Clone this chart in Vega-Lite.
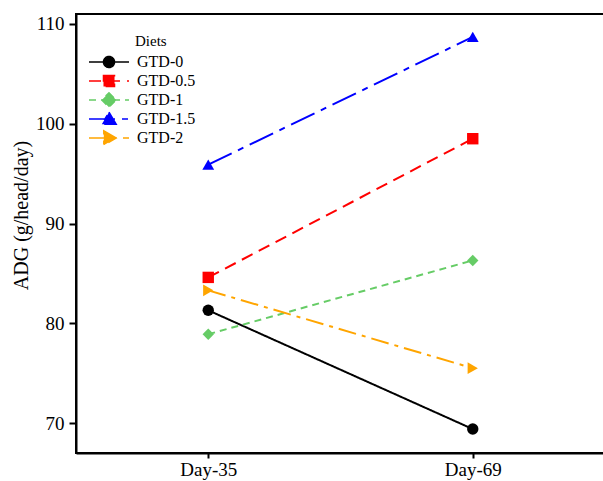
{
  "$schema": "https://vega.github.io/schema/vega-lite/v6.json",
  "width": 529,
  "height": 439,
  "autosize": "none",
  "padding": {"left": 76, "top": 14, "right": 0, "bottom": 28},
  "background": "white",
  "config": {"view": {"stroke": "black", "strokeWidth": 2}, "font": "Liberation Serif"},
  "data": {"values": [
    {"Diet": "GTD-0", "Day": "Day-35", "ADG": 81.3},
    {"Diet": "GTD-0", "Day": "Day-69", "ADG": 69.4},
    {"Diet": "GTD-0.5", "Day": "Day-35", "ADG": 84.6},
    {"Diet": "GTD-0.5", "Day": "Day-69", "ADG": 98.5},
    {"Diet": "GTD-1", "Day": "Day-35", "ADG": 78.9},
    {"Diet": "GTD-1", "Day": "Day-69", "ADG": 86.3},
    {"Diet": "GTD-1.5", "Day": "Day-35", "ADG": 95.9},
    {"Diet": "GTD-1.5", "Day": "Day-69", "ADG": 108.7},
    {"Diet": "GTD-2", "Day": "Day-35", "ADG": 83.3},
    {"Diet": "GTD-2", "Day": "Day-69", "ADG": 75.5}
  ]},
  "encoding": {
    "x": {"field": "Day", "type": "nominal",
      "scale": {"type": "point", "padding": 0.5, "domain": ["Day-35", "Day-69"]},
      "axis": {"title": null, "labelAngle": 0, "grid": false, "domainColor": "black", "domainWidth": 2, "tickColor": "black", "tickWidth": 2, "tickSize": 5, "labelFont": "Liberation Serif", "labelFontSize": 19, "labelColor": "black", "labelPadding": 2}},
    "y": {"field": "ADG", "type": "quantitative",
      "scale": {"domain": [67, 111], "nice": false, "zero": false},
      "axis": {"title": "ADG (g/head/day)", "values": [70, 80, 90, 100, 110], "grid": false, "domainColor": "black", "domainWidth": 2, "tickColor": "black", "tickWidth": 2, "tickSize": 7, "labelFont": "Liberation Serif", "labelFontSize": 19, "labelColor": "black", "labelPadding": 5, "titleFont": "Liberation Serif", "titleFontSize": 20, "titleFontWeight": "normal", "titleColor": "black", "titlePadding": 4, "titleY": 201}},
    "color": {"field": "Diet", "type": "nominal",
      "scale": {"domain": ["GTD-0", "GTD-0.5", "GTD-1", "GTD-1.5", "GTD-2"], "range": ["#000000", "#FF0000", "#66CC66", "#0000FF", "#FFA500"]},
      "legend": {
        "orient": "none", "legendX": 13, "legendY": 20, "title": "Diets",
        "titleFont": "Liberation Serif", "titleFontSize": 15, "titleFontWeight": "normal", "titleColor": "black", "titlePadding": 4,
        "labelFont": "Liberation Serif", "labelFontSize": 16, "labelColor": "black", "labelOffset": 19,
        "symbolSize": 256, "symbolStrokeWidth": 1.5, "symbolOffset": 11, "rowPadding": 1, "padding": 0, "clipHeight": 18,
        "encode": {
          "title": {"update": {"dx": {"value": 46}}},
          "symbols": {"update": {
            "shape": {"signal": "datum.value === 'GTD-0' ? 'M-2.5,0L2.5,0M0.69,0A0.69,0.69,0,1,1,-0.69,0A0.69,0.69,0,1,1,0.69,0Z' : datum.value === 'GTD-0.5' ? 'M-2.5,0L2.5,0M-0.69,-0.69L0.69,-0.69L0.69,0.69L-0.69,0.69Z' : datum.value === 'GTD-1' ? 'M-2.5,0L2.5,0M0,-0.9L0.9,0L0,0.9L-0.9,0Z' : datum.value === 'GTD-1.5' ? 'M-2.5,0L2.5,0M0,-0.85L0.9,0.65L-0.9,0.65Z' : 'M-2.5,0L2.5,0M0.9,0L-0.65,-0.9L-0.65,0.9Z'"},
            "fill": {"signal": "scale('color', datum.value)"},
            "opacity": {"value": 1}
          }}
        }
      }}
  },
  "layer": [
    {
      "mark": {"type": "line", "strokeWidth": 2},
      "encoding": {
        "strokeDash": {"field": "Diet", "type": "nominal",
          "scale": {"domain": ["GTD-0", "GTD-0.5", "GTD-1", "GTD-1.5", "GTD-2"], "range": [[1, 0], [12, 7], [7, 5], [26, 7, 6, 7], [18, 6, 4, 6]]}}
      }
    },
    {"transform": [{"filter": "datum.Diet === 'GTD-0'"}], "mark": {"type": "point", "filled": true, "size": 130, "opacity": 1, "shape": "circle"}},
    {"transform": [{"filter": "datum.Diet === 'GTD-0.5'"}], "mark": {"type": "point", "filled": true, "size": 130, "opacity": 1, "shape": "square"}},
    {"transform": [{"filter": "datum.Diet === 'GTD-1'"}], "mark": {"type": "point", "filled": true, "size": 130, "opacity": 1, "shape": "diamond"}},
    {"transform": [{"filter": "datum.Diet === 'GTD-1.5'"}], "mark": {"type": "point", "filled": true, "size": 140, "opacity": 1, "shape": "triangle-up"}},
    {"transform": [{"filter": "datum.Diet === 'GTD-2'"}], "mark": {"type": "point", "filled": true, "size": 140, "opacity": 1, "shape": "triangle-right"}}
  ]
}
